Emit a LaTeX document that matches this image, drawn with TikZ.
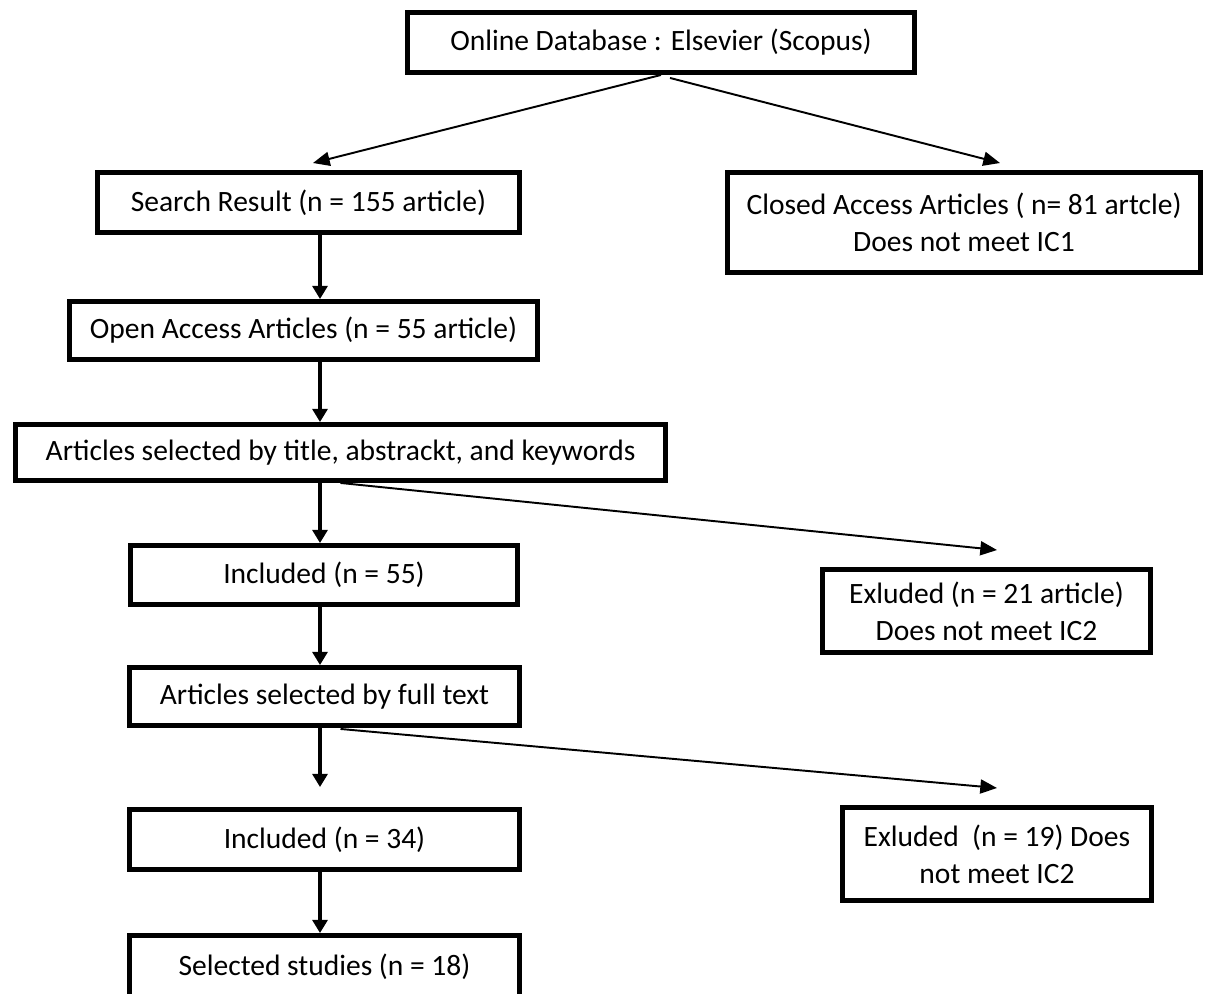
\documentclass[tikz,border=0pt]{standalone}
\usepackage{fontspec}
\setmainfont{Carlito}
\usetikzlibrary{arrows.meta,calc}
\begin{document}
\begin{tikzpicture}[x=0.02cm,y=-0.02cm,
	box/.style={draw,line width=2.8pt,inner sep=0pt,align=center,font=\fontsize{16.8}{21}\selectfont},
	down/.style={-{Triangle[length=7.5pt,width=8.5pt]},line width=2.3pt},
	side/.style={-{Triangle[length=9.5pt,width=8pt]},line width=1.1pt}]
	\useasboundingbox (0,0) rectangle (1207,994);
	\node[box,minimum width=10.14cm,minimum height=1.2cm] (db) at (661,42.5) {Online Database : Elsevier (Scopus)};
	\node[box,minimum width=8.44cm,minimum height=1.2cm] (search) at (308.5,202.5) {Search Result (n = 155 article)};
	\node[box,minimum width=9.46cm,minimum height=2.0cm] (closed) at (964,222.5) {Closed Access Articles ( n= 81 artcle)\\Does not meet IC1};
	\node[box,minimum width=9.36cm,minimum height=1.16cm] (open) at (303.5,330.5) {Open Access Articles (n = 55 article)};
	\node[box,minimum width=13.0cm,minimum height=1.12cm] (title) at (340.5,452.5) {Articles selected by title, abstrackt, and keywords};
	\node[box,minimum width=7.74cm,minimum height=1.18cm] (inc1) at (324,575) {Included (n = 55)};
	\node[box,minimum width=6.56cm,minimum height=1.66cm] (exc1) at (986.5,611) {Exluded (n = 21 article)\\Does not meet IC2};
	\node[box,minimum width=7.8cm,minimum height=1.16cm] (full) at (324.5,696.5) {Articles selected by full text};
	\node[box,minimum width=7.8cm,minimum height=1.2cm] (inc2) at (324.5,839.5) {Included (n = 34)};
	\node[box,minimum width=6.18cm,minimum height=1.86cm] (exc2) at (997,854) {Exluded~ (n = 19) Does\\not meet IC2};
	\node[box,minimum width=7.8cm,minimum height=1.24cm] (sel) at (324.5,966.5) {Selected studies (n = 18)};
	\coordinate (col) at (320,0);
	\coordinate (tipA) at (313,163);
	\coordinate (tipB) at (1000,163);
	\coordinate (tipC) at (997,550);
	\coordinate (tipD) at (997,788);
	\draw[side] (db.south) -- (tipA); % to search
	\draw[side] ($(db.south)+(9,3)$) -- (tipB); % to closed
	\draw[down] (search.south -| col) -- (open.north -| col);
	\draw[down] (open.south -| col) -- (title.north -| col);
	\draw[down] (title.south -| col) -- (inc1.north -| col);
	\draw[side] (title.south) -- (tipC); % to exc1
	\draw[down] (inc1.south -| col) -- (full.north -| col);
	\draw[down] (full.south -| col) -- ($(inc2.north -| col)+(0,-20)$);
	\draw[side] ($(full.south)+(16,1)$) -- (tipD); % to exc2
	\draw[down] (inc2.south -| col) -- (sel.north -| col);
\end{tikzpicture}
\end{document}
